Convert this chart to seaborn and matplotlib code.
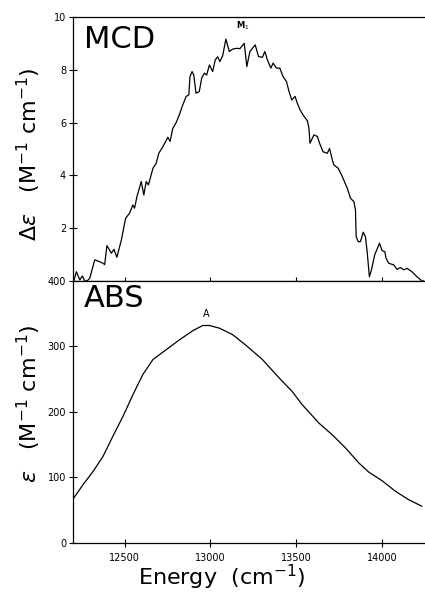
import matplotlib
matplotlib.use("Agg")
import matplotlib.pyplot as plt
import seaborn as sns
import pandas as pd

mcd_energy = [12204, 12219, 12239, 12254, 12268, 12281, 12297, 12326, 12355, 12374, 12384,
              12397, 12423, 12438, 12455, 12481, 12506, 12529, 12548, 12558, 12572, 12597,
              12612, 12626, 12639, 12665, 12684, 12699, 12723, 12752, 12765, 12781, 12800,
              12819, 12835, 12858, 12874, 12881, 12893, 12903, 12916, 12935, 12949, 12965,
              12978, 12994, 13013, 13028, 13042, 13055, 13071, 13090, 13110, 13129, 13152,
              13172, 13197, 13212, 13230, 13261, 13280, 13303, 13317, 13332, 13352, 13365,
              13385, 13404, 13423, 13443, 13458, 13474, 13493, 13506, 13522, 13539, 13565,
              13574, 13580, 13603, 13623, 13636, 13656, 13681, 13694, 13710, 13719, 13745,
              13768, 13797, 13816, 13836, 13845, 13849, 13861, 13874, 13890, 13903, 13913,
              13926, 13938, 13957, 13985, 14000, 14016, 14023, 14039, 14068, 14087, 14107,
              14126, 14145, 14174, 14203, 14232, 14242]
mcd_value = [0.0, 0.35, 0.04, 0.19, 0.0, 0.0, 0.1, 0.8, 0.73, 0.67, 0.62,
             1.34, 1.05, 1.2, 0.9, 1.55, 2.38, 2.57, 2.88, 2.76, 3.2, 3.77,
             3.26, 3.77, 3.64, 4.27, 4.46, 4.84, 5.09, 5.45, 5.29, 5.79, 6.0,
             6.3, 6.61, 6.99, 7.06, 7.75, 7.94, 7.81, 7.12, 7.18, 7.69, 7.88,
             7.81, 8.19, 7.94, 8.38, 8.5, 8.32, 8.53, 9.17, 8.7, 8.79, 8.82,
             8.81, 9.01, 8.13, 8.7, 8.95, 8.51, 8.48, 8.7, 8.38, 8.07, 8.26,
             8.07, 8.07, 7.75, 7.56, 7.18, 6.86, 7.0, 6.74, 6.49, 6.3, 6.07,
             5.79, 5.22, 5.54, 5.48, 5.22, 4.9, 4.84, 5.03, 4.59, 4.4, 4.27,
             3.96, 3.52, 3.14, 3.0, 2.69, 1.68, 1.49, 1.49, 1.85, 1.68, 1.11,
             0.16, 0.42, 0.99, 1.43, 1.15, 1.11, 0.86, 0.67, 0.61, 0.44, 0.51,
             0.42, 0.48, 0.35, 0.16, 0.0, 0.0]

abs_energy = [12204, 12258, 12316, 12374, 12432, 12490, 12548, 12606, 12665, 12742, 12819,
              12897, 12955, 12994, 13052, 13129, 13206, 13303, 13400, 13477, 13535, 13632,
              13710, 13787, 13865, 13923, 14000, 14077, 14155, 14232]
abs_value = [68.6, 89, 109, 132, 163, 193, 226, 257, 280, 295, 310,
             324, 332, 332, 328, 318, 302, 280, 252, 231, 211, 183,
             165, 145, 122, 108, 95, 79, 66, 56]

mcd_yticks = [2, 4, 6, 8, 10]
abs_yticks = [0, 100, 200, 300, 400]
xticks = [12500, 13000, 13500, 14000]

sns.set_style("ticks")
plt.rcParams['font.family'] = ['DejaVu Sans']
plt.rcParams.update({"text.color": "black", "axes.labelcolor": "black",
                     "xtick.color": "black", "ytick.color": "black"})

fig = plt.figure(figsize=(4.25, 5.94), dpi=100)
ax1 = fig.add_axes([0.172, 0.527, 0.828, 0.444])
ax2 = fig.add_axes([0.172, 0.086, 0.828, 0.441], sharex=ax1)

mcd = pd.DataFrame({"E": mcd_energy, "V": mcd_value})
ab = pd.DataFrame({"E": abs_energy, "V": abs_value})
sns.lineplot(data=mcd, x="E", y="V", ax=ax1, color="black", lw=0.9)
sns.lineplot(data=ab, x="E", y="V", ax=ax2, color="black", lw=0.9)

ax1.set_xlim(12200, 14250)
ax1.set_ylim(0, 10)
ax2.set_ylim(0, 400)

for ax in (ax1, ax2):
    for s in ax.spines.values():
        s.set_color("black")
        s.set_linewidth(0.9)
    ax.spines['right'].set_visible(False)
    ax.tick_params(direction="inout", length=6, width=0.8, labelsize=7, pad=2)
    ax.set_xlabel("")

ax1.set_yticks(mcd_yticks)
ax2.set_yticks(abs_yticks)
ax2.set_xticks(xticks)
ax2.tick_params(axis="x", pad=4)
ax1.tick_params(axis="x", labelbottom=False)

ax1.set_ylabel(r"$\Delta\epsilon$   (M$^{-1}$ cm$^{-1}$)", fontsize=16)
ax2.set_ylabel(r"$\epsilon$   (M$^{-1}$ cm$^{-1}$)", fontsize=16)
ax2.set_xlabel(r"Energy  (cm$^{-1}$)", fontsize=16)
ax1.yaxis.set_label_coords(-0.085, 0.48)
ax2.yaxis.set_label_coords(-0.085, 0.53)
ax2.xaxis.set_label_coords(0.423, -0.075)

ax1.text(0.03, 0.97, "MCD", transform=ax1.transAxes, fontsize=22, va="top", ha="left")
ax2.text(0.03, 0.99, "ABS", transform=ax2.transAxes, fontsize=22, va="top", ha="left")
ax1.text(13187, 9.45, r"M$_1$", fontsize=6, fontweight="bold", ha="center", va="bottom")
ax2.text(12974, 342, "A", fontsize=7, ha="center", va="bottom")

fig.savefig("out.png", dpi=100)
